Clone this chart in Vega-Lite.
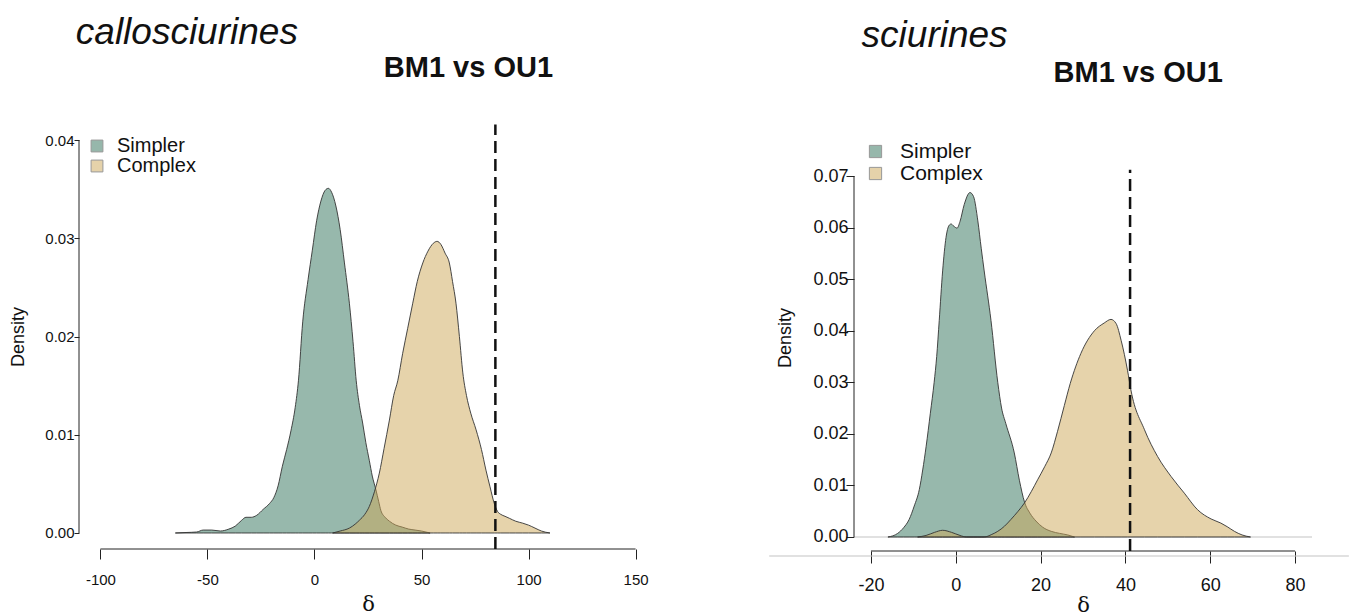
{
  "$schema": "https://vega.github.io/schema/vega-lite/v6.json",
  "background": "white",
  "padding": {"left": 9, "top": 14, "right": 5, "bottom": 0},
  "config": {
    "font": "Liberation Sans",
    "view": {"stroke": null},
    "axis": {"grid": false, "domain": false, "tickColor": "#222", "tickWidth": 1, "labelColor": "#111", "titleColor": "#111", "titleFontWeight": "normal"},
    "title": {"color": "#111"}
  },
  "resolve": {"scale": {"color": "independent"}, "legend": {"color": "independent"}},
  "datasets": {
    "calloSimpler": [
      {"model": "Simpler", "x": -65, "d": 0}, {"model": "Simpler", "x": -60, "d": 0.00005}, {"model": "Simpler", "x": -55, "d": 0.0001},
      {"model": "Simpler", "x": -52, "d": 0.0003}, {"model": "Simpler", "x": -48, "d": 0.0003}, {"model": "Simpler", "x": -44, "d": 0.0002},
      {"model": "Simpler", "x": -40, "d": 0.0004}, {"model": "Simpler", "x": -37, "d": 0.0007}, {"model": "Simpler", "x": -34, "d": 0.0013},
      {"model": "Simpler", "x": -32, "d": 0.0016}, {"model": "Simpler", "x": -29.5, "d": 0.0016}, {"model": "Simpler", "x": -27, "d": 0.0018},
      {"model": "Simpler", "x": -24, "d": 0.0024}, {"model": "Simpler", "x": -21, "d": 0.003}, {"model": "Simpler", "x": -19, "d": 0.0036},
      {"model": "Simpler", "x": -17, "d": 0.0048}, {"model": "Simpler", "x": -15, "d": 0.0068}, {"model": "Simpler", "x": -13, "d": 0.0085},
      {"model": "Simpler", "x": -11, "d": 0.0104}, {"model": "Simpler", "x": -9, "d": 0.0128}, {"model": "Simpler", "x": -7.5, "d": 0.0155},
      {"model": "Simpler", "x": -5.5, "d": 0.0215}, {"model": "Simpler", "x": -3, "d": 0.0258}, {"model": "Simpler", "x": -1, "d": 0.0288},
      {"model": "Simpler", "x": 1, "d": 0.0318}, {"model": "Simpler", "x": 3, "d": 0.0338}, {"model": "Simpler", "x": 5, "d": 0.0349},
      {"model": "Simpler", "x": 6.5, "d": 0.0351}, {"model": "Simpler", "x": 8, "d": 0.0347}, {"model": "Simpler", "x": 10, "d": 0.0333},
      {"model": "Simpler", "x": 12, "d": 0.0309}, {"model": "Simpler", "x": 14, "d": 0.0275}, {"model": "Simpler", "x": 16.3, "d": 0.0234},
      {"model": "Simpler", "x": 18, "d": 0.0195}, {"model": "Simpler", "x": 19.5, "d": 0.0155}, {"model": "Simpler", "x": 21, "d": 0.013},
      {"model": "Simpler", "x": 22.5, "d": 0.0112}, {"model": "Simpler", "x": 24, "d": 0.0092}, {"model": "Simpler", "x": 25.6, "d": 0.0074},
      {"model": "Simpler", "x": 27, "d": 0.0058}, {"model": "Simpler", "x": 28.7, "d": 0.0044}, {"model": "Simpler", "x": 30, "d": 0.0032},
      {"model": "Simpler", "x": 31, "d": 0.0023}, {"model": "Simpler", "x": 33, "d": 0.0016}, {"model": "Simpler", "x": 35, "d": 0.0012},
      {"model": "Simpler", "x": 38, "d": 0.0008}, {"model": "Simpler", "x": 41, "d": 0.0006}, {"model": "Simpler", "x": 44, "d": 0.0004},
      {"model": "Simpler", "x": 47, "d": 0.0003}, {"model": "Simpler", "x": 50, "d": 0.0002}, {"model": "Simpler", "x": 54, "d": 0}
    ],
    "calloComplex": [
      {"model": "Complex", "x": 8.5, "d": 0}, {"model": "Complex", "x": 12, "d": 0.0002}, {"model": "Complex", "x": 16.3, "d": 0.0005},
      {"model": "Complex", "x": 19, "d": 0.0009}, {"model": "Complex", "x": 21, "d": 0.0013}, {"model": "Complex", "x": 23.5, "d": 0.0019},
      {"model": "Complex", "x": 25.6, "d": 0.0027}, {"model": "Complex", "x": 28, "d": 0.0042}, {"model": "Complex", "x": 30.3, "d": 0.0061},
      {"model": "Complex", "x": 32.5, "d": 0.0086}, {"model": "Complex", "x": 35, "d": 0.0115}, {"model": "Complex", "x": 37, "d": 0.014},
      {"model": "Complex", "x": 38.9, "d": 0.0155}, {"model": "Complex", "x": 41.2, "d": 0.0183}, {"model": "Complex", "x": 43.5, "d": 0.0208},
      {"model": "Complex", "x": 45.9, "d": 0.0234}, {"model": "Complex", "x": 48, "d": 0.0256}, {"model": "Complex", "x": 50.6, "d": 0.0275},
      {"model": "Complex", "x": 53, "d": 0.0287}, {"model": "Complex", "x": 55.5, "d": 0.0295}, {"model": "Complex", "x": 57.3, "d": 0.0297},
      {"model": "Complex", "x": 59, "d": 0.0294}, {"model": "Complex", "x": 61, "d": 0.0285}, {"model": "Complex", "x": 63, "d": 0.0275},
      {"model": "Complex", "x": 64.5, "d": 0.0256}, {"model": "Complex", "x": 66.1, "d": 0.0234}, {"model": "Complex", "x": 67.7, "d": 0.02},
      {"model": "Complex", "x": 69.3, "d": 0.0163}, {"model": "Complex", "x": 71, "d": 0.014}, {"model": "Complex", "x": 73, "d": 0.0122},
      {"model": "Complex", "x": 75.5, "d": 0.0105}, {"model": "Complex", "x": 78, "d": 0.0085}, {"model": "Complex", "x": 80.1, "d": 0.0064},
      {"model": "Complex", "x": 82, "d": 0.0047}, {"model": "Complex", "x": 84, "d": 0.003}, {"model": "Complex", "x": 85.5, "d": 0.0022},
      {"model": "Complex", "x": 87, "d": 0.0019}, {"model": "Complex", "x": 89, "d": 0.0017}, {"model": "Complex", "x": 91, "d": 0.0015},
      {"model": "Complex", "x": 94, "d": 0.0012}, {"model": "Complex", "x": 97.3, "d": 0.001}, {"model": "Complex", "x": 100, "d": 0.0008},
      {"model": "Complex", "x": 103, "d": 0.0005}, {"model": "Complex", "x": 106, "d": 0.0002}, {"model": "Complex", "x": 110, "d": 0}
    ],
    "sciuSimpler": [
      {"model": "Simpler", "x": -16, "d": 0}, {"model": "Simpler", "x": -13.7, "d": 0.0007}, {"model": "Simpler", "x": -12.3, "d": 0.0018},
      {"model": "Simpler", "x": -11, "d": 0.0034}, {"model": "Simpler", "x": -9.8, "d": 0.006}, {"model": "Simpler", "x": -8.6, "d": 0.0092},
      {"model": "Simpler", "x": -7.8, "d": 0.013}, {"model": "Simpler", "x": -7, "d": 0.0175}, {"model": "Simpler", "x": -6, "d": 0.024},
      {"model": "Simpler", "x": -5.1, "d": 0.03}, {"model": "Simpler", "x": -4.5, "d": 0.035}, {"model": "Simpler", "x": -3.9, "d": 0.042},
      {"model": "Simpler", "x": -3.1, "d": 0.0516}, {"model": "Simpler", "x": -2.3, "d": 0.0581}, {"model": "Simpler", "x": -1.6, "d": 0.0604},
      {"model": "Simpler", "x": -1.1, "d": 0.0607}, {"model": "Simpler", "x": -0.5, "d": 0.0603}, {"model": "Simpler", "x": 0.3, "d": 0.0599},
      {"model": "Simpler", "x": 1, "d": 0.0612}, {"model": "Simpler", "x": 2, "d": 0.0645}, {"model": "Simpler", "x": 3.35, "d": 0.0668},
      {"model": "Simpler", "x": 4.2, "d": 0.066}, {"model": "Simpler", "x": 5.2, "d": 0.0613}, {"model": "Simpler", "x": 6, "d": 0.056},
      {"model": "Simpler", "x": 6.7, "d": 0.0516}, {"model": "Simpler", "x": 8.3, "d": 0.042}, {"model": "Simpler", "x": 9.9, "d": 0.03},
      {"model": "Simpler", "x": 10.8, "d": 0.025}, {"model": "Simpler", "x": 11.8, "d": 0.022}, {"model": "Simpler", "x": 13.8, "d": 0.0163},
      {"model": "Simpler", "x": 15, "d": 0.011}, {"model": "Simpler", "x": 16.2, "d": 0.0068}, {"model": "Simpler", "x": 17.5, "d": 0.0046},
      {"model": "Simpler", "x": 18.9, "d": 0.0031}, {"model": "Simpler", "x": 20.5, "d": 0.0019}, {"model": "Simpler", "x": 22.5, "d": 0.0011},
      {"model": "Simpler", "x": 24.5, "d": 0.0007}, {"model": "Simpler", "x": 26.4, "d": 0.0004}, {"model": "Simpler", "x": 28, "d": 0}
    ],
    "sciuComplex": [
      {"model": "Complex", "x": -9, "d": 0}, {"model": "Complex", "x": -7, "d": 0.0003}, {"model": "Complex", "x": -5, "d": 0.0009},
      {"model": "Complex", "x": -3.1, "d": 0.0013}, {"model": "Complex", "x": -1, "d": 0.0009}, {"model": "Complex", "x": 1, "d": 0.0003},
      {"model": "Complex", "x": 2.5, "d": 0}, {"model": "Complex", "x": 6.7, "d": 0}, {"model": "Complex", "x": 8.5, "d": 0.0005},
      {"model": "Complex", "x": 9.9, "d": 0.0011}, {"model": "Complex", "x": 11.5, "d": 0.0021}, {"model": "Complex", "x": 13, "d": 0.0034},
      {"model": "Complex", "x": 14.6, "d": 0.0049}, {"model": "Complex", "x": 16.2, "d": 0.0066}, {"model": "Complex", "x": 17.8, "d": 0.0088},
      {"model": "Complex", "x": 19.3, "d": 0.0111}, {"model": "Complex", "x": 21, "d": 0.0137}, {"model": "Complex", "x": 22.5, "d": 0.0163},
      {"model": "Complex", "x": 24, "d": 0.0205}, {"model": "Complex", "x": 25.6, "d": 0.0255}, {"model": "Complex", "x": 27, "d": 0.0298},
      {"model": "Complex", "x": 29.5, "d": 0.0356}, {"model": "Complex", "x": 32.7, "d": 0.04}, {"model": "Complex", "x": 35, "d": 0.0415},
      {"model": "Complex", "x": 36.6, "d": 0.0422}, {"model": "Complex", "x": 37.8, "d": 0.0414}, {"model": "Complex", "x": 39, "d": 0.0381},
      {"model": "Complex", "x": 40.5, "d": 0.0323}, {"model": "Complex", "x": 41.3, "d": 0.0285}, {"model": "Complex", "x": 44.5, "d": 0.0208},
      {"model": "Complex", "x": 47.6, "d": 0.0156}, {"model": "Complex", "x": 50.8, "d": 0.0117}, {"model": "Complex", "x": 53.9, "d": 0.0085},
      {"model": "Complex", "x": 57, "d": 0.0053}, {"model": "Complex", "x": 60.2, "d": 0.0035}, {"model": "Complex", "x": 62.5, "d": 0.0027},
      {"model": "Complex", "x": 64, "d": 0.002}, {"model": "Complex", "x": 65.7, "d": 0.0011}, {"model": "Complex", "x": 67.5, "d": 0.0004},
      {"model": "Complex", "x": 69.5, "d": 0}
    ],
    "calloObserved": [{"observed": 84.5}],
    "sciuObserved": [{"observed": 41.1}]
  },
  "spacing": 111,
  "hconcat": [
    {
      "title": {"text": "callosciurines", "anchor": "start", "fontStyle": "italic", "fontWeight": "normal", "fontSize": 37, "dx": 66, "dy": 4, "offset": 6},
      "vconcat": [
        {
          "width": 578,
          "height": 425,
          "title": {"text": "BM1 vs OU1", "anchor": "start", "fontWeight": "bold", "fontSize": 29, "dx": 374, "offset": 40},
          "encoding": {
            "x": {"type": "quantitative", "scale": {"domain": [-110, 160], "nice": false, "zero": false},
              "axis": {"values": [-100, -50, 0, 50, 100, 150], "labelExpr": "'' + datum.value", "tickSize": 10, "labelFontSize": 15, "labelPadding": 13,
                "title": "δ", "titleFont": "DejaVu Serif", "titleFontSize": 21, "titlePadding": 6}},
            "y": {"type": "quantitative", "scale": {"domain": [-0.00163, 0.04165], "nice": false, "zero": false},
              "axis": {"values": [0, 0.01, 0.02, 0.03, 0.04], "format": ".2f", "tickSize": 5, "labelPadding": 0, "labelFontSize": 15,
                "title": "Density", "titleFontSize": 18, "titlePadding": 17}}
          },
          "layer": [
            {
              "data": {"name": "calloSimpler"},
              "mark": {"type": "area", "fillOpacity": 0.5, "stroke": "#333", "strokeWidth": 0.9, "interpolate": "monotone"},
              "encoding": {
                "x": {"field": "x"}, "y": {"field": "d", "stack": null}, "y2": {"datum": 0},
                "color": {"field": "model", "type": "nominal", "scale": {"domain": ["Simpler", "Complex"], "range": ["#2f7159", "#cda757"]},
                  "legend": {"orient": "none", "legendX": 8, "legendY": 12, "title": null, "symbolType": "square", "symbolSize": 140,
                    "symbolStrokeColor": "#333", "symbolStrokeWidth": 1, "symbolOpacity": 0.5, "labelFontSize": 20, "labelOffset": 10,
                    "rowPadding": 0, "padding": 0, "labelColor": "#111"}}
              }
            },
            {
              "data": {"name": "calloComplex"},
              "mark": {"type": "area", "fillOpacity": 0.5, "stroke": "#333", "strokeWidth": 0.9, "interpolate": "monotone"},
              "encoding": {
                "x": {"field": "x"}, "y": {"field": "d", "stack": null}, "y2": {"datum": 0},
                "color": {"field": "model", "type": "nominal"}
              }
            },
            {
              "data": {"values": [{}]},
              "mark": {"type": "rule", "color": "#222", "strokeWidth": 1},
              "encoding": {"x": {"datum": -110}, "y": {"datum": 0}, "y2": {"datum": 0.04}}
            },
            {
              "data": {"values": [{}]},
              "mark": {"type": "rule", "color": "#222", "strokeWidth": 1},
              "encoding": {"x": {"datum": -100}, "x2": {"datum": 150}, "y": {"datum": -0.00163}}
            },
            {
              "data": {"name": "calloObserved"},
              "mark": {"type": "rule", "color": "#111", "strokeWidth": 2.5, "strokeDash": [12, 6]},
              "encoding": {"x": {"field": "observed"}, "y": {"datum": -0.00163}, "y2": {"datum": 0.0416}}
            }
          ]
        }
      ]
    },
    {
      "title": {"text": "sciurines", "anchor": "start", "fontStyle": "italic", "fontWeight": "normal", "fontSize": 37, "dx": 93, "dy": 2, "offset": 6},
      "vconcat": [
        {
          "width": 458,
          "height": 427,
          "title": {"text": "BM1 vs OU1", "anchor": "start", "fontWeight": "bold", "fontSize": 29, "dx": 285, "dy": 4, "offset": 40},
          "encoding": {
            "x": {"type": "quantitative", "scale": {"domain": [-24, 84], "nice": false, "zero": false},
              "axis": {"values": [-20, 0, 20, 40, 60, 80], "labelExpr": "'' + datum.value", "tickSize": 12, "labelFontSize": 18, "labelPadding": 13,
                "title": "δ", "titleFont": "DejaVu Serif", "titleFontSize": 21, "titlePadding": 0}},
            "y": {"type": "quantitative", "scale": {"domain": [-0.002715, 0.08009], "nice": false, "zero": false},
              "axis": {"values": [0, 0.01, 0.02, 0.03, 0.04, 0.05, 0.06, 0.07], "format": ".2f", "tickSize": 8, "labelPadding": -2, "labelFontSize": 18,
                "title": "Density", "titleFontSize": 18, "titlePadding": 18}}
          },
          "layer": [
            {
              "data": {"values": [{}]},
              "mark": {"type": "rule", "color": "#c4c4c4", "strokeWidth": 1.2},
              "encoding": {"x": {"datum": -44}, "x2": {"datum": 92.7}, "y": {"datum": -0.00368}}
            },
            {
              "data": {"values": [{}]},
              "mark": {"type": "rule", "color": "#c4c4c4", "strokeWidth": 1.2},
              "encoding": {"x": {"datum": -24}, "x2": {"datum": 84}, "y": {"datum": 0}}
            },
            {
              "data": {"name": "sciuSimpler"},
              "mark": {"type": "area", "fillOpacity": 0.5, "stroke": "#333", "strokeWidth": 0.9, "interpolate": "monotone"},
              "encoding": {
                "x": {"field": "x"}, "y": {"field": "d", "stack": null}, "y2": {"datum": 0},
                "color": {"field": "model", "type": "nominal", "scale": {"domain": ["Simpler", "Complex"], "range": ["#2f7159", "#cda757"]},
                  "legend": {"orient": "none", "legendX": 11, "legendY": 17, "title": null, "symbolType": "square", "symbolSize": 150,
                    "symbolStrokeColor": "#333", "symbolStrokeWidth": 1, "symbolOpacity": 0.5, "labelFontSize": 21, "labelOffset": 14,
                    "rowPadding": 0, "padding": 0, "labelColor": "#111"}}
              }
            },
            {
              "data": {"name": "sciuComplex"},
              "mark": {"type": "area", "fillOpacity": 0.5, "stroke": "#333", "strokeWidth": 0.9, "interpolate": "monotone"},
              "encoding": {
                "x": {"field": "x"}, "y": {"field": "d", "stack": null}, "y2": {"datum": 0},
                "color": {"field": "model", "type": "nominal"}
              }
            },
            {
              "data": {"values": [{}]},
              "mark": {"type": "rule", "color": "#222", "strokeWidth": 1},
              "encoding": {"x": {"datum": -24}, "y": {"datum": 0}, "y2": {"datum": 0.07}}
            },
            {
              "data": {"values": [{}]},
              "mark": {"type": "rule", "color": "#222", "strokeWidth": 1},
              "encoding": {"x": {"datum": -20}, "x2": {"datum": 80}, "y": {"datum": -0.002715}}
            },
            {
              "data": {"name": "sciuObserved"},
              "mark": {"type": "rule", "color": "#111", "strokeWidth": 2.5, "strokeDash": [12, 6]},
              "encoding": {"x": {"field": "observed"}, "y": {"datum": -0.002715}, "y2": {"datum": 0.0712}}
            }
          ]
        }
      ]
    }
  ]
}
